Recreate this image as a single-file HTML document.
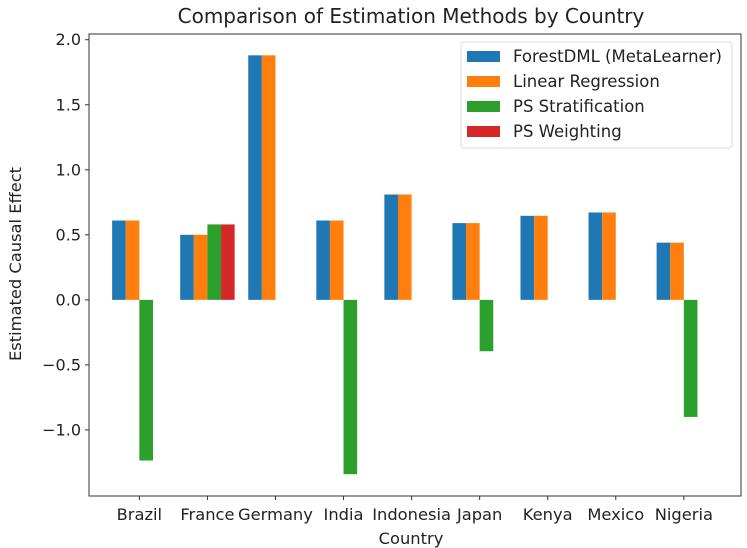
<!DOCTYPE html>
<html><head><meta charset="utf-8"><style>
html,body{margin:0;padding:0;background:#fff;}
svg{display:block;font-family:"DejaVu Sans","Liberation Sans",sans-serif;}
</style></head><body>
<svg id="chart" width="747" height="548" viewBox="0 0 747 548">
<rect width="747" height="548" fill="#fff"/>
<text x="411" y="23" font-size="20" text-anchor="middle" fill="#222">Comparison of Estimation Methods by Country</text>
<g id="bars"></g>
<g id="axes"></g>
<text x="411" y="544" font-size="16.3" text-anchor="middle" fill="#222">Country</text>
<text transform="translate(21,264) rotate(-90)" font-size="16.3" text-anchor="middle" fill="#222">Estimated Causal Effect</text>
<g id="legend"></g>
</svg>
<script>
const categories = ["Brazil","France","Germany","India","Indonesia","Japan","Kenya","Mexico","Nigeria"];
const seriesNames = ["ForestDML (MetaLearner)","Linear Regression","PS Stratification","PS Weighting"];
const forestDML = [0.61,0.50,1.88,0.61,0.81,0.59,0.646,0.672,0.44];
const linearReg = [0.61,0.50,1.88,0.61,0.81,0.59,0.646,0.672,0.44];
const psStrat = [-1.235,0.58,null,-1.34,null,-0.395,null,null,-0.90];
const psWeight = [null,0.58,null,null,null,null,null,null,null];
const yTicks = [2.0,1.5,1.0,0.5,0.0,-0.5,-1.0];
const colors = ["#1f77b4","#ff7f0e","#2ca02c","#d62728"];

const NS="http://www.w3.org/2000/svg";
const L=89,R=741,T=34,B=496;
const yMin=-1.508,yMax=2.044;
const xMin=-0.74,xMax=8.84;
function xs(v){return L+(v-xMin)/(xMax-xMin)*(R-L);}
function ys(v){return T+(yMax-v)/(yMax-yMin)*(B-T);}
function mk(tag,attrs,parent){const e=document.createElementNS(NS,tag);for(const k in attrs)e.setAttribute(k,attrs[k]);parent.appendChild(e);return e;}
const bars=document.getElementById('bars'),axes=document.getElementById('axes'),legend=document.getElementById('legend');
const allSeries=[forestDML,linearReg,psStrat,psWeight];
const bw=0.2;
const keys=["forestdml","linear-regression","ps-stratification","ps-weighting"];
allSeries.forEach((s,si)=>{
  s.forEach((v,ci)=>{
    if(v===null||v===undefined)return;
    const x0=xs(ci+(si-2)*bw),x1=xs(ci+(si-1)*bw);
    const y0=ys(Math.max(v,0)),y1=ys(Math.min(v,0));
    const r=mk('rect',{x:x0,y:y0,width:x1-x0,height:y1-y0,fill:colors[si]},bars);
    
    
  });
});
const frame=mk('rect',{x:L,y:T,width:R-L,height:B-T,fill:'none',stroke:'#333','stroke-width':1},axes);


yTicks.forEach(t=>{
  const y=ys(t);
  mk('line',{x1:L-4,x2:L,y1:y,y2:y,stroke:'#333'},axes);
  const tx=mk('text',{x:L-8,y:y+5.5,'font-size':16,'text-anchor':'end',fill:'#222'},axes);
  tx.textContent=(t<0?'\u2212':'')+Math.abs(t).toFixed(1);
  
  
});
categories.forEach((c,i)=>{
  const x=xs(i);
  mk('line',{x1:x,x2:x,y1:B,y2:B+4,stroke:'#333'},axes);
  const tx=mk('text',{x:x,y:B+24,'font-size':16.3,'text-anchor':'middle',fill:'#222'},axes);
  tx.textContent=c;
  
  
});
const lb=mk('rect',{x:461,y:42,width:271,height:106,rx:3,fill:'#fff',stroke:'#ddd'},legend);


seriesNames.forEach((n,i)=>{
  const cy=56+i*25;
  const p=mk('rect',{x:467,y:cy-5,width:33,height:11,fill:colors[i]},legend);
  
  
  const t=mk('text',{x:513,y:cy+6,'font-size':16.5,fill:'#222'},legend);
  t.textContent=n;
  
  
});
</script>
</body></html>
